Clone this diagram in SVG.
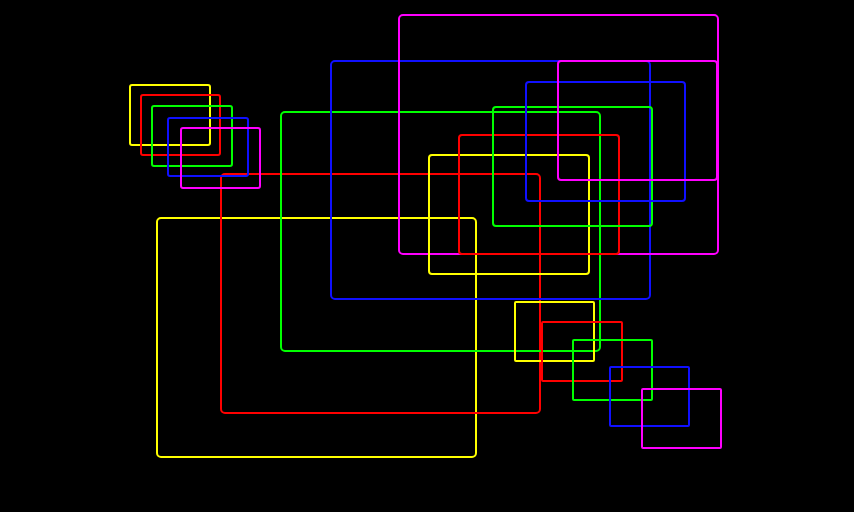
<svg xmlns="http://www.w3.org/2000/svg" width="854" height="512" viewBox="0 0 854 512">
<style>
rect.b{fill:none;stroke-width:2}
.y{stroke:#ffff00}.r{stroke:#ff0000}.g{stroke:#00ff00}.bl{stroke:#1010ff}.m{stroke:#ff00ff}
</style>
<rect width="854" height="512" fill="#000"/>
<g id="big">
<g id="yellow-big"><rect class="b y" x="157" y="218" width="319" height="239" rx="4"/></g>
<g id="red-big"><rect class="b r" x="221" y="174" width="319" height="239" rx="4"/></g>
<g id="green-big"><rect class="b g" x="281" y="112" width="319" height="239" rx="4"/></g>
<g id="blue-big"><rect class="b bl" x="331" y="61" width="319" height="238" rx="4"/></g>
<g id="magenta-big"><rect class="b m" x="399" y="15" width="319" height="239" rx="4"/></g>
<g id="yellow-mid"><rect class="b y" x="429" y="155" width="160" height="119" rx="3"/></g>
<g id="red-mid"><rect class="b r" x="459" y="135" width="160" height="119" rx="3"/></g>
<g id="green-mid"><rect class="b g" x="493" y="107" width="159" height="119" rx="3"/></g>
<g id="blue-mid"><rect class="b bl" x="526" y="82" width="159" height="119" rx="3"/></g>
<g id="magenta-mid"><rect class="b m" x="558" y="61" width="159" height="119" rx="3"/></g>
</g>
<g id="small-tl">
<g id="yellow-s1"><rect class="b y" x="130" y="85" width="80" height="60" rx="2"/></g>
<g id="red-s1"><rect class="b r" x="141" y="95" width="79" height="60" rx="2"/></g>
<g id="green-s1"><rect class="b g" x="152" y="106" width="80" height="60" rx="2"/></g>
<g id="blue-s1"><rect class="b bl" x="168" y="118" width="80" height="58" rx="2"/></g>
<g id="magenta-s1"><rect class="b m" x="181" y="128" width="79" height="60" rx="2"/></g>
</g>
<g id="small-br">
<g id="yellow-s2"><rect class="b y" x="515" y="302" width="79" height="59" rx="1"/></g>
<g id="red-s2"><rect class="b r" x="542" y="322" width="80" height="59" rx="1"/></g>
<g id="green-s2"><rect class="b g" x="573" y="340" width="79" height="60" rx="1"/></g>
<g id="blue-s2"><rect class="b bl" x="610" y="367" width="79" height="59" rx="1"/></g>
<g id="magenta-s2"><rect class="b m" x="642" y="389" width="79" height="59" rx="1"/></g>
</g>
</svg>
